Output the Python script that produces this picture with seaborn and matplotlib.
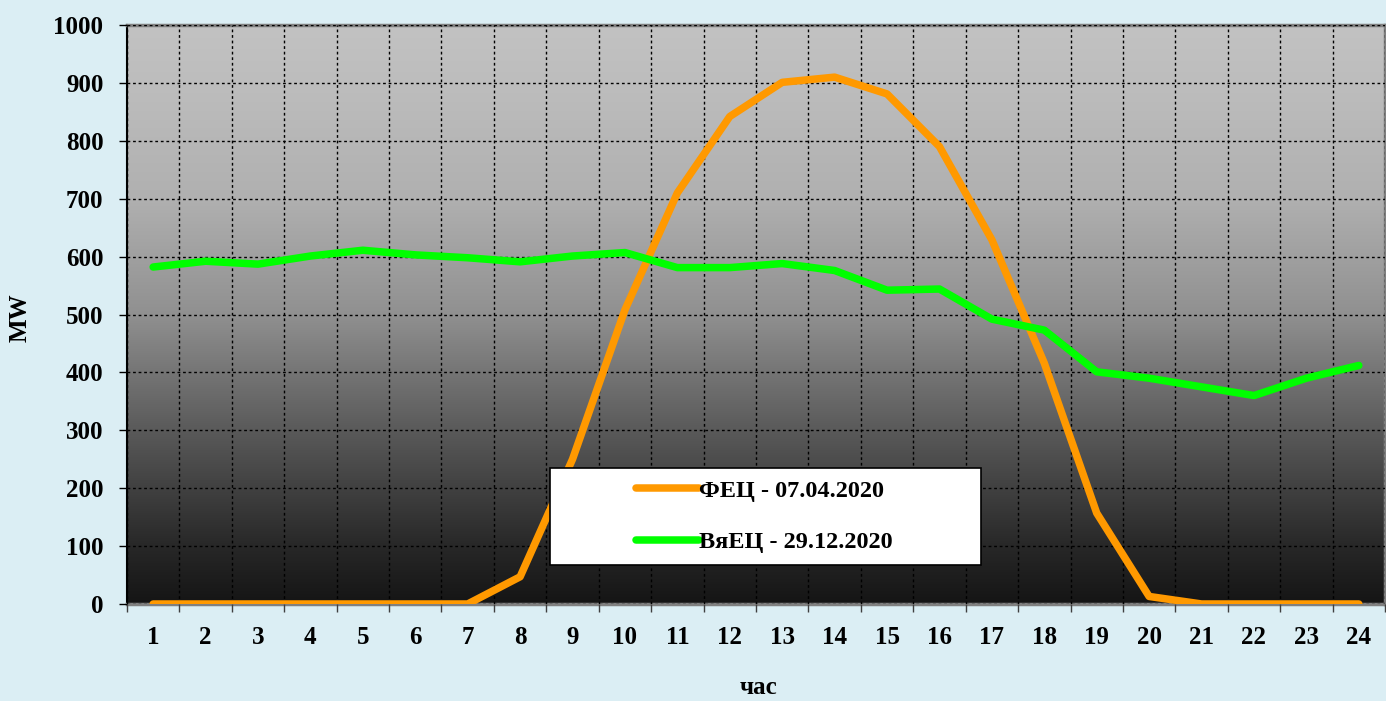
"""
Recreacion del grafico: produccion horaria FEC vs VyaEC (MW por hora).
"""
import numpy as np
import pandas as pd
import matplotlib
matplotlib.use("Agg")
import matplotlib.pyplot as plt
from matplotlib.colors import LinearSegmentedColormap
from matplotlib.patches import Rectangle
import seaborn as sns

# --- datos ---
horas = list(range(1, 25))
fec = [0, 0, 0, 0, 0, 0, 0, 47, 250, 508, 710, 842, 901, 910, 881, 790,
       629, 416, 157, 13, 0, 0, 0, 0]
vyaec = [582, 592, 587, 601, 611, 603, 598, 591, 601, 607, 581, 581, 588, 576,
         542, 544, 492, 473, 401, 390, 375, 360, 390, 412]
etiquetas = ["ФЕЦ - 07.04.2020", "ВяЕЦ - 29.12.2020"]
colores = ["#FF9900", "#00FF00"]

df = pd.DataFrame({
    "hora": horas * 2,
    "MW": fec + vyaec,
    "serie": [etiquetas[0]] * 24 + [etiquetas[1]] * 24,
})

FONDO = "#DBEEF4"
plt.rcParams["font.family"] = ["Liberation Serif", "DejaVu Serif"]
plt.rcParams["font.weight"] = "bold"

fig = plt.figure(figsize=(13.86, 7.01), dpi=100, facecolor=FONDO)
ax = fig.add_axes([0.0916, 0.1384, 0.9077, 0.8259])

# fondo degradado gris -> negro
grad = LinearSegmentedColormap.from_list(
    "grad", [(0.0, "#151515"), (0.1, "#282828"), (0.3, "#5a5a5a"),
             (0.5, "#909090"), (0.7, "#b0b0b0"), (0.9, "#bdbdbd"),
             (1.0, "#c2c2c2")])
ax.imshow(np.linspace(0, 1, 256).reshape(-1, 1), cmap=grad, origin="lower",
          extent=[0.5, 24.5, 0, 1000], aspect="auto", zorder=0)

sns.lineplot(data=df, x="hora", y="MW", hue="serie", palette=colores,
             linewidth=5.4, ax=ax, legend=False, zorder=3)
for ln in ax.lines:
    ln.set_solid_capstyle("round")
    ln.set_solid_joinstyle("round")

ax.set_xlim(0.5, 24.5)
ax.set_ylim(0, 1000)
ax.set_xticks(horas)
ax.set_xticks(np.arange(0.5, 25, 1), minor=True)
ax.set_yticks(range(0, 1001, 100))
ax.tick_params(axis="x", which="major", length=0, pad=16, labelsize=18)
ax.tick_params(axis="x", which="minor", length=6, width=1, color="#404040")
ax.tick_params(axis="y", which="major", length=6, width=1, pad=11, labelsize=18)
for t in ax.get_xticklabels() + ax.get_yticklabels():
    t.set_fontweight("bold")

ax.grid(True, which="minor", axis="x", color="black", linestyle=(0, (2, 2)), linewidth=1)
ax.grid(True, which="major", axis="y", color="black", linestyle=(0, (2, 2)), linewidth=1)
ax.grid(False, which="major", axis="x")
ax.set_axisbelow(False)

for s in ["top", "right", "bottom"]:
    ax.spines[s].set_color("#808080")
    ax.spines[s].set_linewidth(2.5)
ax.spines["left"].set_color("black")
ax.spines["left"].set_linewidth(1.5)

ax.set_xlabel("час", fontsize=18, fontweight="bold")
ax.set_ylabel("MW", fontsize=18, fontweight="bold")
ax.xaxis.set_label_coords(0.502, -0.125)
ax.yaxis.set_label_coords(-0.076, 0.494)

# leyenda con caja blanca
ax.add_patch(Rectangle((0.336, 0.067), 0.343, 0.168, transform=ax.transAxes,
                       facecolor="white", edgecolor="black", linewidth=1.2,
                       zorder=5))
handles = [plt.Line2D([], [], color=c, linewidth=5.4, solid_capstyle="round")
           for c in colores]
leg = ax.legend(handles, etiquetas, loc="center", bbox_to_anchor=(0.5065, 0.151),
                frameon=False, handlelength=2.6, handletextpad=0.0,
                labelspacing=1.2, prop={"size": 17.5, "weight": "bold"})
leg.set_zorder(6)

fig.savefig("out.png", dpi=100, facecolor=FONDO)
